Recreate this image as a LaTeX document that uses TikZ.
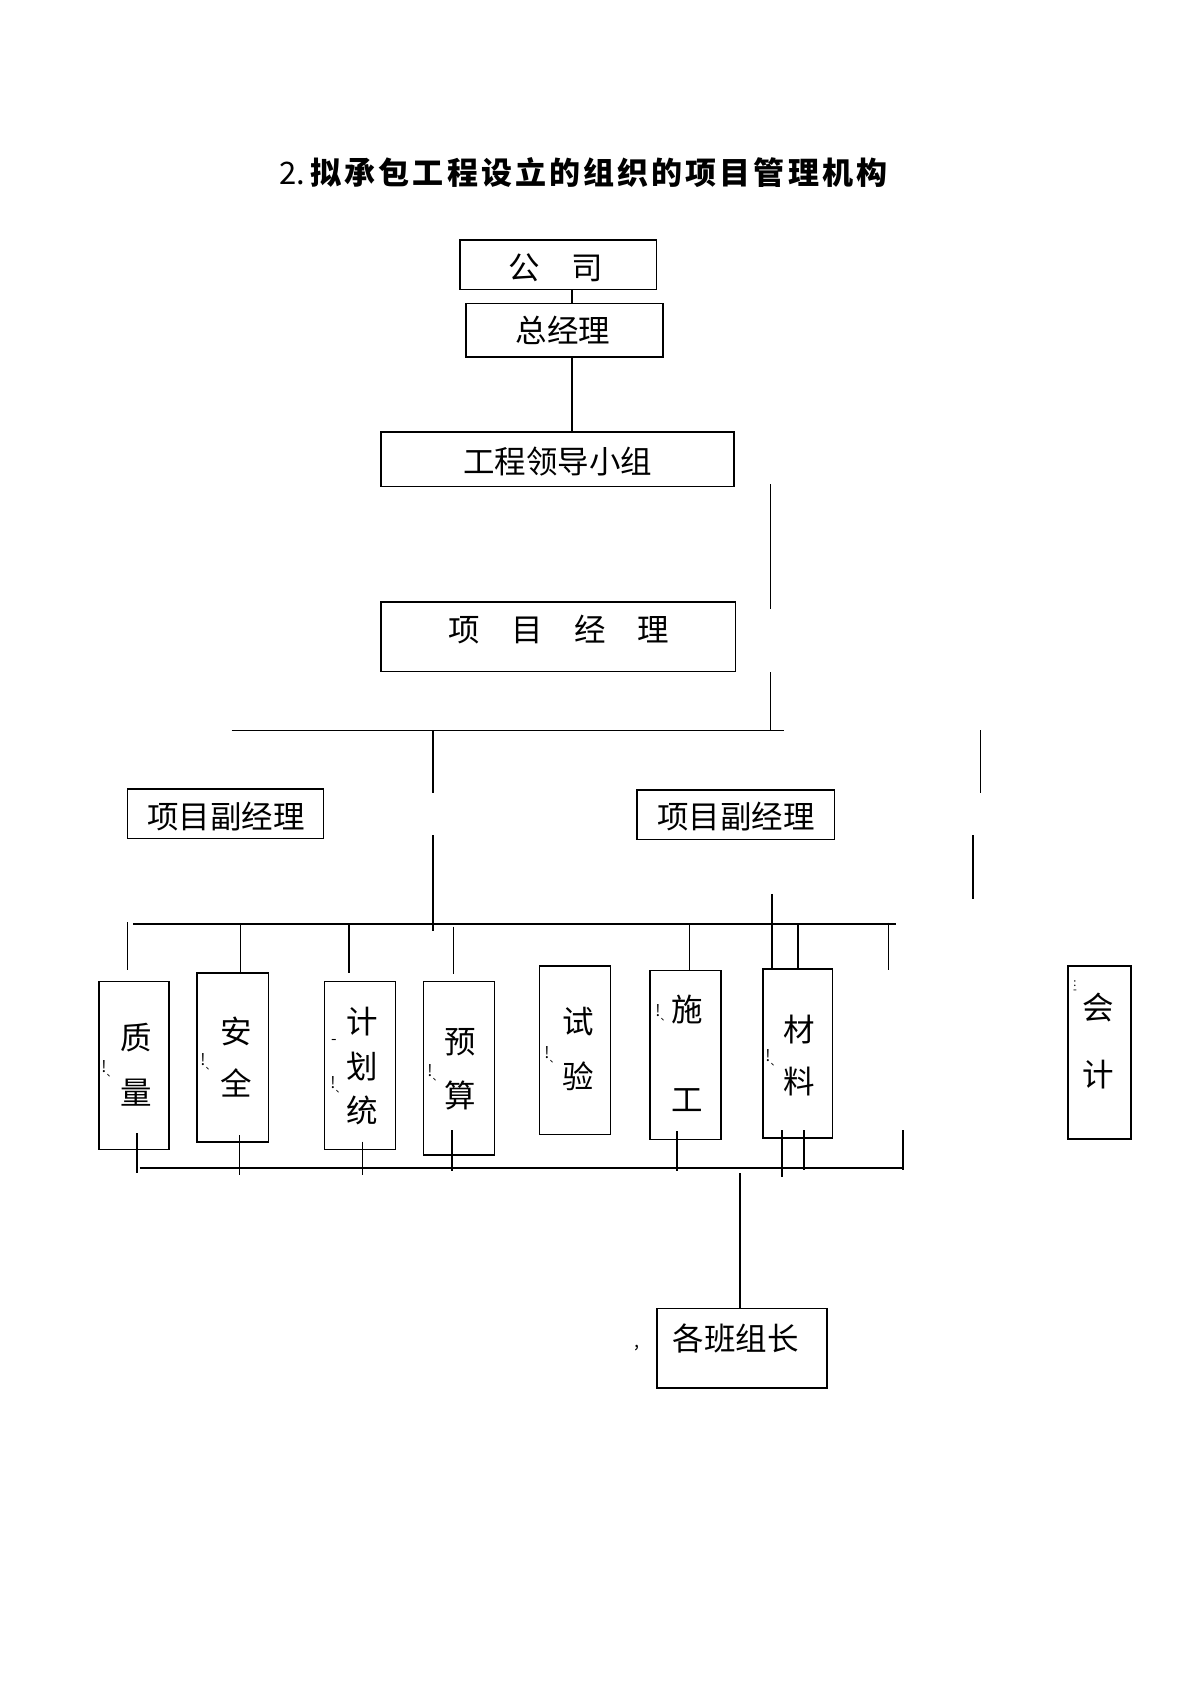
\documentclass[tikz,border=0pt]{standalone}
\usepackage{fontspec}
\setmainfont{Noto Sans CJK SC}
\newcommand{\tg}{\kern3.1pt}
\newcommand{\strk}{!\raisebox{-4pt}{\fontsize{10}{10}\selectfont 、}}
\begin{document}
\begin{tikzpicture}[x=1pt,y=-1pt,
  conn/.style={line width=1.6pt},
  box/.style={draw, line width=1.6pt, inner sep=0pt},
  lbl/.style={font=\fontsize{31.5}{31.5}\selectfont, inner sep=0pt, anchor=center},
  ttl/.style={font=\fontsize{31}{31}\selectfont\bfseries, inner sep=0pt, anchor=center},
  stray/.style={font=\fontsize{16}{16}\selectfont, inner sep=0pt, anchor=center}]
\fill[white] (0,0) rectangle (1200,1697);
\useasboundingbox (0,0) rectangle (1200,1697);

% title
\node[ttl] (title) at (583.5,173) {{\mdseries 2.}\,拟\tg 承\tg 包\tg 工\tg 程\tg 设\tg 立\tg 的\tg 组\tg 织\tg 的\tg 项\tg 目\tg 管\tg 理\tg 机\tg 构};

% boxes
\node[box, minimum width=196.5pt, minimum height=49.5pt] (gs) at (558.2,264.7) {};
\node[lbl] (gsT) at (555.5,268) {公　司};
\node[box, minimum width=197pt, minimum height=53.4pt] (zjl) at (564.5,330) {};
\node[lbl] (zjlT) at (563,330) {总经理};
\node[box, minimum width=353pt, minimum height=54.5pt] (gcld) at (557.5,459.2) {};
\node[lbl] (gcldT) at (557.5,462) {工程领导小组};
\node[box, minimum width=354.5pt, minimum height=69.5pt] (xmjl) at (558.2,636.7) {};
\node[lbl] (xmjlT) at (558.8,630) {项　目　经　理};
\node[box, minimum width=196pt, minimum height=49.6pt] (fjl1) at (225.5,813.8) {};
\node[lbl] (fjl1T) at (226,817) {项目副经理};
\node[box, minimum width=197.3pt, minimum height=49.6pt] (fjl2) at (735.8,814.5) {};
\node[lbl] (fjl2T) at (736,817) {项目副经理};

\node[box, minimum width=70pt, minimum height=168pt] (zl) at (134,1065.6) {};
\node[lbl] (zl1) at (136,1038) {质};
\node[lbl] (zl2) at (136,1093) {量};
\node[box, minimum width=71.4pt, minimum height=169.2pt] (aq) at (232.7,1057.4) {};
\node[lbl] (aq1) at (236,1031.7) {安};
\node[lbl] (aq2) at (236,1083.3) {全};
\node[box, minimum width=71pt, minimum height=168pt] (jht) at (360,1065.6) {};
\node[lbl] (jht1) at (362.4,1021.7) {计};
\node[lbl] (jht2) at (362.4,1066.7) {划};
\node[lbl] (jht3) at (362.4,1110) {统};
\node[box, minimum width=71pt, minimum height=173.4pt] (ys) at (459,1068.3) {};
\node[lbl] (ys1) at (460.6,1041.7) {预};
\node[lbl] (ys2) at (460.6,1095) {算};
\node[box, minimum width=71pt, minimum height=168.3pt] (sy) at (575.1,1050.2) {};
\node[lbl] (sy1) at (578,1021.7) {试};
\node[lbl] (sy2) at (578,1076.7) {验};
\node[box, minimum width=70.8pt, minimum height=169.1pt] (sg) at (685.4,1054.9) {};
\node[lbl] (sg1) at (687.3,1010) {施};
\node[lbl] (sg2) at (687.3,1100) {工};
\node[box, minimum width=69.6pt, minimum height=168.7pt] (cl) at (797.7,1053.4) {};
\node[lbl] (cl1) at (799.6,1030) {材};
\node[lbl] (cl2) at (799.6,1081.7) {料};
\node[box, minimum width=63pt, minimum height=172.5pt] (kj) at (1099.5,1052.5) {};
\node[lbl] (kj1) at (1098.5,1007.3) {会};
\node[lbl] (kj2) at (1098.5,1075) {计};
\node[box, minimum width=170pt, minimum height=79.7pt] (bzz) at (741.7,1348.2) {};
\node[lbl] (bzzT) at (735.7,1338.3) {各班组长};

% stray marks
\node[stray] (m1) at (109,1069) {\strk};
\node[stray] (m2) at (208,1062) {\strk};
\node[stray] (m3) at (334,1042) {-};
\node[stray] (m4) at (338,1085) {\strk};
\node[stray] (m5) at (435,1073) {\strk};
\node[stray] (m6) at (552,1055) {\strk};
\node[stray] (m7) at (663,1013) {\strk};
\node[stray] (m8) at (773,1058) {\strk};
\node[stray, font=\fontsize{11}{11}\selectfont] (m9) at (1075,987) {\shortstack{:\\-}};
\node[stray, font=\fontsize{18}{18}\selectfont] (m10) at (637,1348) {,};

% coordinates
\coordinate (xa) at (571.7,0);
\coordinate (xr) at (770.5,0);
\coordinate (r1a) at (770.5,484);
\coordinate (r1b) at (770.5,609);
\coordinate (bus1L) at (231.6,730.4);
\coordinate (bus1R) at (784,730.4);
\coordinate (v2) at (433,793);
\coordinate (v3a) at (433,835);
\coordinate (v3b) at (433,931);
\coordinate (r2) at (980.4,793.2);
\coordinate (r3a) at (972.8,835.4);
\coordinate (r3b) at (972.8,899.2);
\coordinate (bus2L) at (133,924);
\coordinate (bus2R) at (896,924);
\coordinate (d0a) at (127.5,922);
\coordinate (d0b) at (127.5,970);
\coordinate (d1) at (240.4,0);
\coordinate (d2) at (349,972.7);
\coordinate (d3a) at (453.5,926.7);
\coordinate (d3b) at (453.5,974);
\coordinate (d4) at (689.4,0);
\coordinate (d5a) at (771.8,893.8);
\coordinate (d6) at (797.8,0);
\coordinate (d7a) at (888.5,922.7);
\coordinate (d7b) at (888.5,970);
\coordinate (bus3L) at (139.6,1168);
\coordinate (bus3R) at (903,1168);
\coordinate (u1a) at (137.2,1133.3); \coordinate (u1b) at (137.2,1173.3);
\coordinate (u2a) at (239.6,1135);   \coordinate (u2b) at (239.6,1175);
\coordinate (u3a) at (362.4,1141.7); \coordinate (u3b) at (362.4,1175);
\coordinate (u4a) at (451.8,1130);   \coordinate (u4b) at (451.8,1170.7);
\coordinate (u5a) at (677.1,1131);   \coordinate (u5b) at (677.1,1170.7);
\coordinate (u6a) at (782,1130);     \coordinate (u6b) at (782,1176.7);
\coordinate (u7a) at (803.7,1130);   \coordinate (u7b) at (803.7,1170);
\coordinate (u8a) at (903,1130);     \coordinate (u8b) at (903,1170);
\coordinate (xb) at (740,1173.3);

% connectors
\draw[conn] (gs.south -| xa) -- (zjl.north -| xa);
\draw[conn] (zjl.south -| xa) -- (gcld.north -| xa);
\draw[conn] (r1a) -- (r1b);
\draw[conn] (xmjl.south -| xr) -- (bus1R -| xr);
\draw[conn] (bus1L) -- (bus1R);
\draw[conn] (bus1L -| v2) -- (v2);
\draw[conn] (v3a) -- (v3b);
\draw[conn] (bus1L -| r2) -- (r2);
\draw[conn] (r3a) -- (r3b);
\draw[conn] (bus2L) -- (bus2R);
\draw[conn] (d0a) -- (d0b);
\draw[conn] (bus2L -| d1) -- (aq.north -| d1);
\draw[conn] (bus2L -| d2) -- (d2);
\draw[conn] (d3a) -- (d3b);
\draw[conn] (bus2L -| d4) -- (sg.north -| d4);
\draw[conn] (d5a) -- (cl.north -| d5a);
\draw[conn] (bus2L -| d6) -- (cl.north -| d6);
\draw[conn] (d7a) -- (d7b);
\draw[conn] (bus3L) -- (bus3R);
\draw[conn] (u1a) -- (u1b);
\draw[conn] (u2a) -- (u2b);
\draw[conn] (u3a) -- (u3b);
\draw[conn] (u4a) -- (u4b);
\draw[conn] (u5a) -- (u5b);
\draw[conn] (u6a) -- (u6b);
\draw[conn] (u7a) -- (u7b);
\draw[conn] (u8a) -- (u8b);
\draw[conn] (xb) -- (bzz.north -| xb);
\end{tikzpicture}
\end{document}
